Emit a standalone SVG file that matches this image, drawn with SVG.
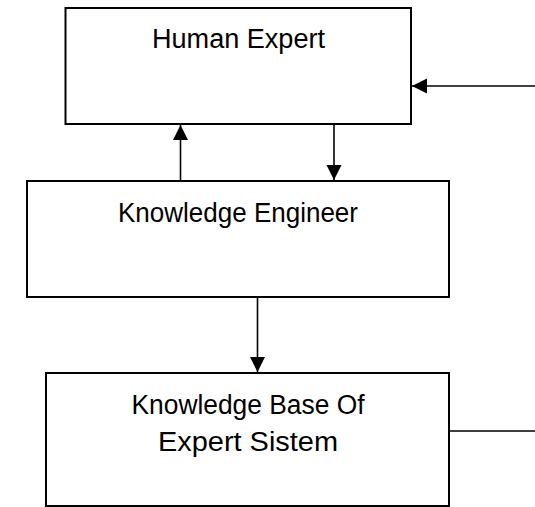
<svg xmlns="http://www.w3.org/2000/svg" width="535" height="507" viewBox="0 0 535 507">
  <style>
    .box { fill: #ffffff; stroke: #000000; stroke-width: 2; }
    .lbl { font-family: "Liberation Sans", Arial, sans-serif; font-size: 27px; fill: #000000; text-anchor: middle; }
    .wire { fill: none; stroke: #000000; stroke-width: 1.6; }
  </style>
  <defs>
    <marker id="arrow" markerUnits="userSpaceOnUse" markerWidth="16" markerHeight="16" viewBox="0 0 16 16" refX="15" refY="8" orient="auto">
      <path d="M0,0.5 L15,8 L0,15.5 Z" fill="#000000"/>
    </marker>
  </defs>
  <rect width="535" height="507" fill="#ffffff"/>

  <g id="human-expert">
    <rect class="box" x="65.5" y="8" width="345.5" height="116"/>
    <text class="lbl" x="238.5" y="48" textLength="173" lengthAdjust="spacingAndGlyphs">Human Expert</text>
  </g>

  <g id="knowledge-engineer">
    <rect class="box" x="27" y="181" width="422" height="116"/>
    <text class="lbl" x="238" y="222" textLength="240" lengthAdjust="spacingAndGlyphs">Knowledge Engineer</text>
  </g>

  <g id="knowledge-base">
    <rect class="box" x="46" y="373" width="403" height="133"/>
    <text class="lbl" x="248" y="413.5" textLength="233" lengthAdjust="spacingAndGlyphs">Knowledge Base Of</text>
    <text class="lbl" x="248" y="451" textLength="180" lengthAdjust="spacingAndGlyphs">Expert Sistem</text>
  </g>

  <g id="connectors">
    <line class="wire" x1="535" y1="86" x2="412" y2="86" marker-end="url(#arrow)"/>
    <line class="wire" x1="180.5" y1="181" x2="180.5" y2="125" marker-end="url(#arrow)"/>
    <line class="wire" x1="334" y1="124" x2="334" y2="180" marker-end="url(#arrow)"/>
    <line class="wire" x1="257.5" y1="297" x2="257.5" y2="372" marker-end="url(#arrow)"/>
    <line class="wire" x1="449" y1="431" x2="535" y2="431"/>
  </g>
</svg>
